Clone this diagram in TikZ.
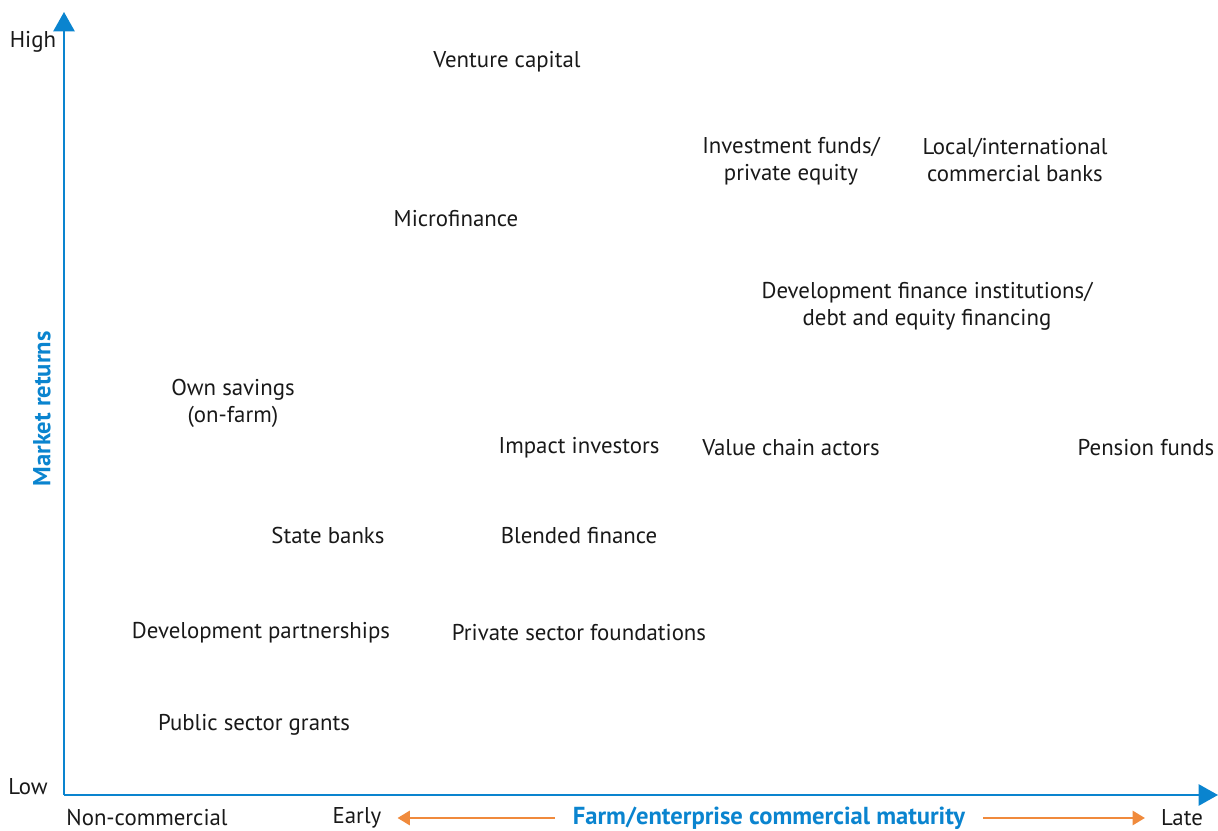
\documentclass[tikz,border=0pt]{standalone}
\usepackage{fontspec}
\setmainfont{PT Sans}
\usetikzlibrary{arrows.meta}
\definecolor{axisblue}{HTML}{0A84CF}
\definecolor{arrorange}{HTML}{F08A3C}
\begin{document}
\begin{tikzpicture}[x=0.02cm,y=-0.02cm,font=\fontsize{13}{15.5}\selectfont,
  src/.style={align=center,text=black!90,inner sep=0pt},
  axlab/.style={text=axisblue,font=\fontsize{14}{16}\selectfont\bfseries,inner sep=0pt},
  axis/.style={axisblue,line width=1.3pt,-{Triangle[length=11pt,width=12pt]}},
  span/.style={arrorange,line width=1.5pt,-{Triangle[length=7pt,width=8pt]},shorten >=9pt,shorten <=10pt}]
  \useasboundingbox (0,0) rectangle (1218,831);
  % axes
  \coordinate (O) at (64,795);
  \draw[axis] (O)--(64,12);
  \draw[axis] (O)--(1218,795);
  \node[src] (high) at (33,42) {High};
  \node[src] (low) at (28,787) {Low};
  \node[axlab,rotate=90] (ret) at (42,409) {Market returns};
  \node[src] (noncom) at (147,818) {Non-commercial};
  \node[src] (early) at (357,818) {Early};
  \node[src] (late) at (1182,818) {Late};
  \node[axlab] (mat) at (769,818) {Farm/enterprise commercial maturity};
  \draw[span] (mat.west)--(early.east);
  \draw[span] (mat.east)--(late.west);
  % sources of finance
  \node[src] (vc) at (507,62) {Venture capital};
  \node[src] (invf) at (791,161) {Investment funds/\\private equity};
  \node[src] (banks) at (1015,160) {Local/international\\commercial banks};
  \node[src] (micro) at (456,219) {Microfinance};
  \node[src] (dfi) at (927,306) {Development finance institutions/\\debt and equity financing};
  \node[src] (own) at (233,403) {Own savings\\(on-farm)};
  \node[src] (impact) at (579,448) {Impact investors};
  \node[src] (vca) at (791,448) {Value chain actors};
  \node[src] (pension) at (1146,448) {Pension funds};
  \node[src] (state) at (328,536) {State banks};
  \node[src] (blend) at (579,536) {Blended finance};
  \node[src] (devp) at (261,633) {Development partnerships};
  \node[src] (found) at (579,633) {Private sector foundations};
  \node[src] (grants) at (254,725) {Public sector grants};
\end{tikzpicture}
\end{document}
